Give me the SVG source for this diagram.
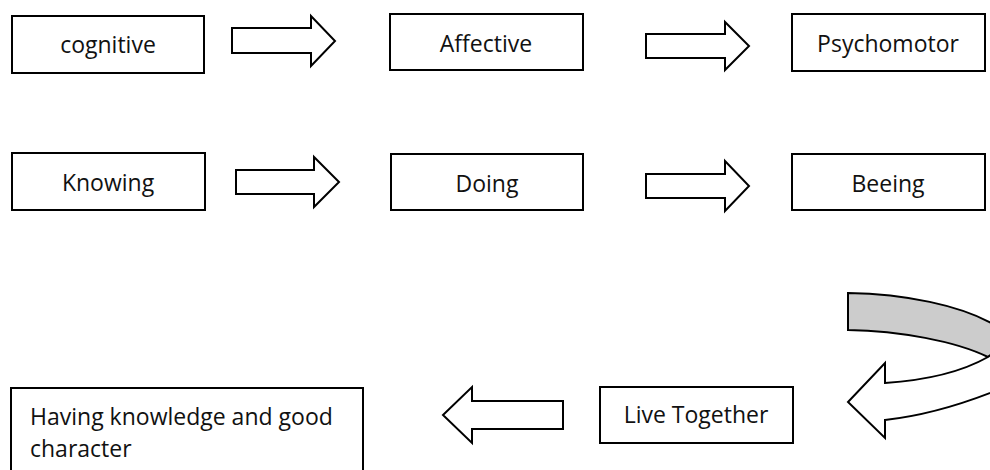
<svg xmlns="http://www.w3.org/2000/svg" width="990" height="470" viewBox="0 0 990 470">
<style>
  .box { fill: #ffffff; stroke: #000000; stroke-width: 2; }
  .lbl { font-family: "Open Sans", "Liberation Sans", sans-serif; font-size: 23px; fill: #111111; }
  .mid { text-anchor: middle; }
  .arr { fill: #ffffff; stroke: #000000; stroke-width: 2; stroke-linejoin: miter; }
  .back { fill: #cccccc; stroke: #000000; stroke-width: 2; stroke-linejoin: miter; }
</style>
<rect x="0" y="0" width="990" height="470" fill="#ffffff"/>

<g id="connectors">
  <polygon class="arr" points="232,28 311,28 311,16 335,41 311,66 311,53 232,53"/>
  <polygon class="arr" points="646,34 725,34 725,22 749,46 725,70 725,58 646,58"/>
  <polygon class="arr" points="236,170 314,170 314,157 339,182 314,207 314,194 236,194"/>
  <polygon class="arr" points="646,174 725,174 725,161 749,186 725,211 725,198 646,198"/>
  <polygon class="arr" points="563,401 472,401 472,387 443,415 472,443 472,429 563,429"/>
  <g id="curved-arrow">
    <path class="back" d="M848,293 C905,294 960,305 995,325 L1012,340 L988,357 C955,341 900,331 848,330 Z"/>
    <path class="arr" d="M988,357 L1012,340 L1012,384 C975,400 930,415 885,420 L885,438 L848,402 L885,363 L885,383 C930,380 965,370 988,357 Z"/>
  </g>
</g>

<g id="node-cognitive">
  <rect class="box" x="12" y="16" width="192" height="57"/>
  <text class="lbl mid" x="108" y="53">cognitive</text>
</g>
<g id="node-affective">
  <rect class="box" x="390" y="14" width="193" height="56"/>
  <text class="lbl mid" x="486" y="52">Affective</text>
</g>
<g id="node-psychomotor">
  <rect class="box" x="792" y="14" width="193" height="57"/>
  <text class="lbl mid" x="888" y="52">Psychomotor</text>
</g>
<g id="node-knowing">
  <rect class="box" x="12" y="153" width="193" height="57"/>
  <text class="lbl mid" x="108" y="191">Knowing</text>
</g>
<g id="node-doing">
  <rect class="box" x="391" y="154" width="192" height="56"/>
  <text class="lbl mid" x="487" y="192">Doing</text>
</g>
<g id="node-beeing">
  <rect class="box" x="792" y="154" width="193" height="56"/>
  <text class="lbl mid" x="888" y="192">Beeing</text>
</g>
<g id="node-live-together">
  <rect class="box" x="600" y="387" width="193" height="56"/>
  <text class="lbl mid" x="696" y="423">Live Together</text>
</g>
<g id="node-having">
  <rect class="box" x="11" y="388" width="352" height="90"/>
  <text class="lbl" x="30" y="425">Having knowledge and good</text>
  <text class="lbl" x="30" y="457">character</text>
</g>
</svg>
